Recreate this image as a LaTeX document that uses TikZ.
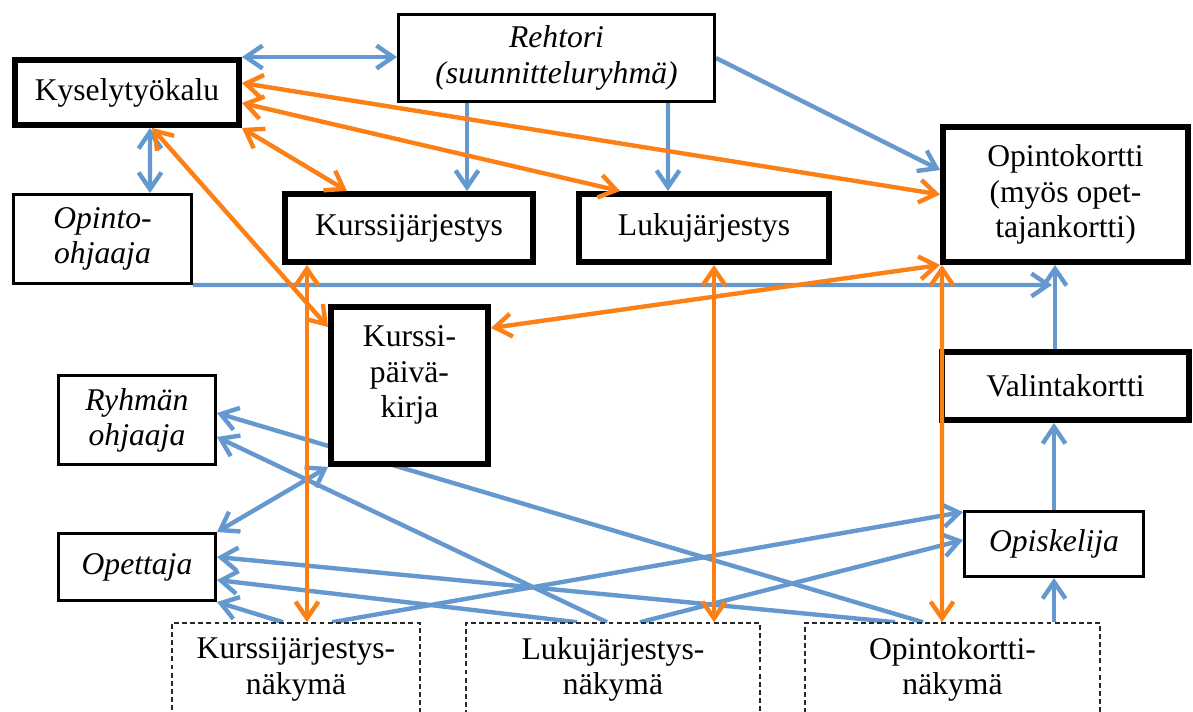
\documentclass[tikz,border=0pt]{standalone}
\usepackage{fontspec}
\setmainfont{Liberation Serif}
\usetikzlibrary{arrows.meta,calc}
\pgfdeclarelayer{back}
\pgfdeclarelayer{bg}
\pgfsetlayers{back,bg,main}
\definecolor{lblue}{RGB}{100,152,206}
\definecolor{lorange}{RGB}{252,128,22}
\definecolor{dgray}{RGB}{40,40,40}
\begin{document}
\begin{tikzpicture}[x=0.02cm,y=-0.02cm,
  >={Straight Barb[length=9.5pt,width=13pt]},
  every node/.style={font=\fontsize{18}{20}\selectfont, align=center, inner sep=0pt},
  thickbox/.style={draw=black, line width=3.4pt, fill=white},
  thinbox/.style={draw=black, line width=1.7pt, fill=white},
  viewbox/.style={draw=dgray, line width=0.9pt, dash pattern=on 2.8pt off 1.8pt, fill=white},
  bl/.style={draw=lblue, line width=2.5pt},
  orl/.style={draw=lorange, line width=2.5pt}]
\useasboundingbox (0,0) rectangle (1193,712);
\begin{pgfonlayer}{back}
\fill[white] (0,0) rectangle (1193,712);
\end{pgfonlayer}
\clip (0,0) rectangle (1193,712);

% boxes
\node[thickbox, minimum width=4.48cm, minimum height=1.30cm] (kysely) at (127,92.5) {Kyselytyökalu};
\node[thinbox, minimum width=6.32cm, minimum height=1.74cm] (rehtori) at (556.5,58) {\itshape Rehtori\\\itshape (suunnitteluryhmä)};
\node[thinbox, minimum width=3.56cm, minimum height=1.78cm] (opo) at (102.5,239) {\itshape Opinto-\\\itshape ohjaaja};
\node[thickbox, minimum width=4.96cm, minimum height=1.36cm] (kj) at (409,228) {Kurssijärjestys};
\node[thickbox, minimum width=5.00cm, minimum height=1.36cm] (lj) at (704,228) {Lukujärjestys};
\node[thickbox, minimum width=4.90cm, minimum height=2.70cm] (ok) at (1065.5,194.5) {Opintokortti\\(myös opet-\\tajankortti)};
\node[thickbox, minimum width=3.14cm, minimum height=3.14cm] (kpd) at (409.5,385.5) {};
\node (kpdtext) at (409.5,375) {Kurssi-\\päivä-\\kirja};
\node[thinbox, minimum width=3.14cm, minimum height=1.78cm] (ryhma) at (137,420) {\itshape Ryhmän\\\itshape ohjaaja};
\node[thinbox, minimum width=3.14cm, minimum height=1.34cm] (opettaja) at (137,567) {\itshape Opettaja};
\node[thickbox, minimum width=4.94cm, minimum height=1.36cm] (valinta) at (1065.5,386) {Valintakortti};
\node[thinbox, minimum width=3.58cm, minimum height=1.30cm] (opiskelija) at (1054,544) {\itshape Opiskelija};
\node[viewbox, minimum width=4.96cm, minimum height=1.86cm] (kjn) at (296,669.5) {Kurssijärjestys-\\näkymä};
\node[viewbox, minimum width=5.88cm, minimum height=1.86cm] (ljn) at (613,669.5) {Lukujärjestys-\\näkymä};
\node[viewbox, minimum width=5.90cm, minimum height=1.86cm] (okn) at (952.5,669.5) {Opintokortti-\\näkymä};
\coordinate (okin) at ($(ok.south)+(-13.5,20)$);

% blue connectors (behind boxes)
\begin{pgfonlayer}{bg}
\draw[bl,<->] (kysely.north east) -- (kysely.north east -| rehtori.west);
\draw[bl,<->] ($(kysely.south)+(23,0)$) -- ($(opo.north)+(47.5,0)$);
\draw[bl,->] ($(rehtori.south)+(-89.5,0)$) -- ($(kj.north)+(58,0)$);
\draw[bl,->] ($(rehtori.south)+(111.5,0)$) -- ($(lj.north)+(-36,0)$);
\draw[bl,->] (rehtori.east) -- ($(ok.west)+(0,-24.5)$);
\draw[bl,->] (opo.south east) -- (okin);
\draw[bl,->] ($(valinta.north)+(-10.5,0)$) -- ($(ok.south)+(-10.5,0)$);
\draw[bl,->] (opiskelija.north) -- (opiskelija.north |- valinta.south);
\draw[bl,->] (opiskelija.south |- okn.north) -- (opiskelija.south);
\draw[bl,<->] (kpd.south west) -- (opettaja.north east);
\draw[bl,->] ($(okn.north)+(-29.5,0)$) -- ($(ryhma.east)+(0,-7)$);
\draw[bl,->] ($(ljn.north)+(-6,0)$) -- ($(ryhma.east)+(0,17)$);
\draw[bl,->] ($(okn.north)+(-57.5,0)$) -- ($(opettaja.east)+(0,-10)$);
\draw[bl,->] ($(ljn.north)+(-36,0)$) -- ($(opettaja.east)+(0,13)$);
\draw[bl,->] ($(kjn.north)+(-13,0)$) -- (opettaja.south east);
\draw[bl,->] ($(kjn.north)+(36,0)$) -- ($(opiskelija.west)+(0,-32)$);
\draw[bl,->] ($(ljn.north)+(27,0)$) -- ($(opiskelija.west)+(0,-4)$);
\end{pgfonlayer}

% orange connectors
\draw[orl,<->] ($(kysely.east)+(0,-9.5)$) -- (ok.west);
\draw[orl,<->] ($(kysely.east)+(0,10.5)$) -- ($(lj.north)+(-84,0)$);
\draw[orl,<->] (kysely.south east) -- ($(kj.north)+(-62,0)$);
\draw[orl,<->] ($(kysely.south)+(25,0)$) -- ($(kpd.west)+(0,-58.5)$);
\draw[orl,<->] ($(kj.south)+(-102,0)$) -- ($(kjn.north)+(11,0)$);
\draw[orl,<->] ($(lj.south)+(10,0)$) -- ($(ljn.north)+(101,0)$);
\draw[orl,<->] ($(ok.south west)+(2,0)$) -- ($(okn.north)+(-10.5,0)$);
\draw[orl,<->] (ok.south west) -- ($(kpd.east)+(0,-57.5)$);
\end{tikzpicture}
\end{document}
